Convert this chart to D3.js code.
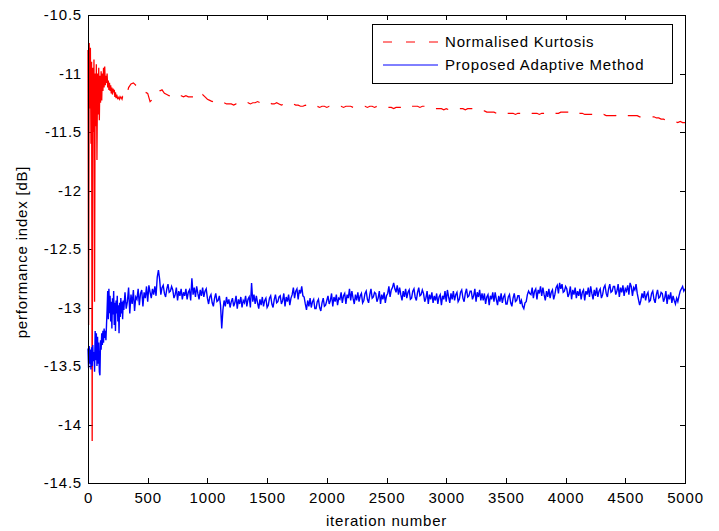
<!DOCTYPE html>
<html>
<head>
<meta charset="utf-8">
<script src="https://cdn.jsdelivr.net/npm/d3@7"></script>
<style>
  body { margin: 0; background: #fff; }
  svg text { font-family: Arial, "Liberation Sans", sans-serif; font-size: 15px; letter-spacing: 0.8px; fill: #000; }
</style>
</head>
<body>
<div id="chart"></div>
<script>
// sampling of the series: dense at the start, coarser afterwards
const earlyStep = 5;                            // iterations 0..300
const kurtLateStart = 320, kurtLateStep = 20;   // red, 320..5000
const adaptLateStart = 310, adaptLateStep = 10; // blue, 310..5000

// Normalised Kurtosis [dB]
const kurtosisEarly = [
  -10.80, -13.15, -10.74, -11.30, -10.78, -11.60, -10.90, -14.14, -10.95, -11.50,
  -10.88, -12.95, -11.00, -11.45, -10.92, -11.74, -11.00, -11.35, -10.95, -11.40,
  -11.02, -11.25, -10.98, -11.23, -11.00, -11.15, -10.95, -11.12, -10.94, -11.10,
  -11.02, -11.08, -11.00, -11.12, -11.06, -11.14, -11.08, -11.15, -11.10, -11.17,
  -11.12, -11.18, -11.13, -11.16, -11.14, -11.20, -11.16, -11.21, -11.18, -11.20,
  -11.22, -11.21, -11.20, -11.22, -11.21, -11.20, -11.21, -11.22, -11.20, -11.21,
  -11.20
];
const kurtosisLate = [
  -11.20, -11.12, -11.09, -11.08, -11.10, -11.11, -11.13, -11.14, -11.16, -11.17,
  -11.24, -11.22, -11.20, -11.18, -11.15, -11.14, -11.17, -11.18, -11.19, -11.18,
  -11.19, -11.18, -11.18, -11.19, -11.20, -11.19, -11.20, -11.20, -11.20, -11.21,
  -11.19, -11.20, -11.18, -11.20, -11.22, -11.23, -11.24, -11.23, -11.24, -11.24,
  -11.25, -11.25, -11.26, -11.26, -11.26, -11.27, -11.26, -11.26, -11.27, -11.26,
  -11.26, -11.25, -11.26, -11.25, -11.25, -11.24, -11.25, -11.25, -11.26, -11.25,
  -11.25, -11.26, -11.26, -11.25, -11.26, -11.27, -11.26, -11.26, -11.27, -11.26,
  -11.26, -11.27, -11.27, -11.28, -11.28, -11.27, -11.28, -11.28, -11.29, -11.28,
  -11.28, -11.29, -11.28, -11.28, -11.29, -11.28, -11.28, -11.29, -11.28, -11.28,
  -11.28, -11.29, -11.28, -11.28, -11.28, -11.29, -11.28, -11.28, -11.28, -11.28,
  -11.28, -11.29, -11.28, -11.28, -11.29, -11.28, -11.29, -11.29, -11.29, -11.29,
  -11.29, -11.29, -11.30, -11.29, -11.29, -11.29, -11.28, -11.28, -11.29, -11.28,
  -11.28, -11.28, -11.28, -11.29, -11.28, -11.28, -11.29, -11.30, -11.30, -11.30,
  -11.30, -11.30, -11.30, -11.31, -11.30, -11.31, -11.30, -11.30, -11.30, -11.30,
  -11.30, -11.30, -11.31, -11.30, -11.30, -11.30, -11.31, -11.31, -11.31, -11.32,
  -11.32, -11.33, -11.33, -11.33, -11.33, -11.34, -11.33, -11.33, -11.33, -11.34,
  -11.34, -11.34, -11.34, -11.35, -11.34, -11.34, -11.34, -11.34, -11.34, -11.35,
  -11.34, -11.34, -11.34, -11.35, -11.34, -11.34, -11.34, -11.33, -11.34, -11.34,
  -11.34, -11.34, -11.33, -11.33, -11.33, -11.33, -11.33, -11.34, -11.33, -11.33,
  -11.34, -11.34, -11.35, -11.35, -11.35, -11.35, -11.35, -11.36, -11.36, -11.36,
  -11.35, -11.36, -11.36, -11.36, -11.36, -11.36, -11.35, -11.36, -11.36, -11.36,
  -11.36, -11.36, -11.36, -11.36, -11.36, -11.37, -11.37, -11.37, -11.37, -11.37,
  -11.37, -11.37, -11.38, -11.38, -11.39, -11.39, -11.40, -11.41, -11.41, -11.41,
  -11.41, -11.42, -11.41, -11.42, -11.42
];

// Proposed Adaptive Method [dB]
const adaptiveEarly = [
  -13.35, -13.52, -13.33, -13.48, -13.36, -13.53, -13.34, -13.50, -13.32, -13.46,
  -13.38, -13.55, -13.20, -13.45, -13.22, -13.50, -13.25, -13.48, -13.30, -13.55,
  -13.58, -13.28, -13.36, -13.22, -13.32, -13.20, -13.30, -13.18, -13.26, -13.20,
  -13.28, -13.15, -13.02, -12.86, -13.10, -12.84, -13.05, -12.90, -13.12, -12.95,
  -13.18, -12.92, -13.06, -12.86, -13.15, -12.96, -13.20, -12.94, -13.05, -12.90,
  -13.12, -12.98, -13.22, -12.96, -13.08, -12.92, -13.05, -12.95, -13.10, -12.94,
  -13.02
];
const adaptiveLate = [
  -12.87, -13.01, -12.95, -12.83, -13.05, -12.89, -12.97, -12.85, -13.03, -12.91,
  -12.93, -12.84, -12.98, -12.88, -12.85, -12.99, -12.87, -12.92, -12.82, -12.95,
  -12.81, -12.87, -12.92, -12.84, -12.89, -12.82, -12.90, -12.74, -12.68, -12.76,
  -12.89, -12.83, -12.81, -12.88, -12.91, -12.84, -12.80, -12.87, -12.86, -12.82,
  -12.85, -12.92, -12.89, -12.83, -12.94, -12.86, -12.90, -12.84, -12.93, -12.87,
  -12.90, -12.84, -12.93, -12.87, -12.85, -12.94, -12.75, -12.89, -12.83, -12.91,
  -12.82, -12.88, -12.93, -12.85, -12.90, -12.83, -12.91, -12.86, -12.84, -12.92,
  -12.97, -12.91, -12.89, -12.96, -12.99, -12.92, -12.88, -12.95, -12.94, -12.90,
  -12.98, -13.18, -13.02, -12.94, -12.99, -12.91, -12.97, -12.93, -13.00, -12.95,
  -12.92, -12.99, -12.96, -12.90, -13.01, -12.93, -12.97, -12.91, -13.00, -12.94,
  -12.96, -12.90, -12.99, -12.93, -12.91, -13.00, -12.79, -12.95, -12.89, -12.97,
  -12.90, -12.96, -13.01, -12.93, -12.98, -12.91, -12.99, -12.94, -12.92, -13.00,
  -12.98, -12.92, -12.90, -12.97, -13.00, -12.93, -12.89, -12.96, -12.95, -12.91,
  -12.90, -12.97, -12.94, -12.88, -12.99, -12.91, -12.95, -12.89, -12.98, -12.92,
  -12.89, -12.83, -12.92, -12.86, -12.84, -12.93, -12.85, -12.88, -12.82, -12.90,
  -12.91, -12.97, -13.02, -12.94, -12.99, -12.92, -13.00, -12.95, -12.93, -13.01,
  -13.01, -12.95, -12.93, -13.00, -13.03, -12.96, -12.92, -12.99, -12.98, -12.94,
  -12.90, -12.97, -12.94, -12.88, -12.99, -12.91, -12.95, -12.89, -12.98, -12.92,
  -12.93, -12.87, -12.96, -12.90, -12.88, -12.97, -12.89, -12.92, -12.84, -12.94,
  -12.86, -12.92, -12.97, -12.89, -12.94, -12.87, -12.95, -12.90, -12.88, -12.96,
  -12.94, -12.88, -12.86, -12.93, -12.96, -12.89, -12.84, -12.92, -12.91, -12.87,
  -12.88, -12.95, -12.92, -12.86, -12.97, -12.89, -12.93, -12.87, -12.96, -12.90,
  -12.88, -12.82, -12.91, -12.85, -12.83, -12.79, -12.84, -12.87, -12.81, -12.89,
  -12.83, -12.89, -12.94, -12.86, -12.91, -12.84, -12.92, -12.87, -12.85, -12.93,
  -12.92, -12.86, -12.84, -12.91, -12.94, -12.87, -12.83, -12.90, -12.89, -12.85,
  -12.88, -12.95, -12.92, -12.86, -12.97, -12.89, -12.93, -12.87, -12.96, -12.90,
  -12.94, -12.88, -12.97, -12.91, -12.89, -12.98, -12.90, -12.93, -12.86, -12.95,
  -12.85, -12.91, -12.96, -12.88, -12.93, -12.86, -12.94, -12.89, -12.87, -12.95,
  -12.93, -12.87, -12.85, -12.92, -12.95, -12.88, -12.84, -12.91, -12.90, -12.86,
  -12.86, -12.93, -12.90, -12.84, -12.95, -12.87, -12.91, -12.85, -12.94, -12.88,
  -12.94, -12.88, -12.97, -12.91, -12.89, -12.98, -12.90, -12.93, -12.87, -12.95,
  -12.87, -12.93, -12.98, -12.90, -12.95, -12.88, -12.96, -12.91, -12.89, -12.97,
  -12.97, -12.91, -12.89, -12.96, -12.99, -12.92, -12.88, -12.95, -12.94, -12.90,
  -12.90, -12.97, -12.94, -12.99, -13.01, -12.96, -12.95, -12.89, -12.86, -12.88,
  -12.89, -12.83, -12.92, -12.86, -12.84, -12.93, -12.85, -12.88, -12.82, -12.90,
  -12.83, -12.89, -12.94, -12.86, -12.91, -12.84, -12.92, -12.87, -12.85, -12.93,
  -12.89, -12.83, -12.81, -12.88, -12.79, -12.84, -12.80, -12.87, -12.86, -12.82,
  -12.84, -12.91, -12.88, -12.82, -12.93, -12.85, -12.89, -12.83, -12.92, -12.86,
  -12.90, -12.84, -12.93, -12.87, -12.85, -12.94, -12.86, -12.89, -12.83, -12.91,
  -12.82, -12.88, -12.93, -12.85, -12.90, -12.83, -12.91, -12.86, -12.84, -12.92,
  -12.89, -12.83, -12.81, -12.88, -12.91, -12.84, -12.80, -12.87, -12.86, -12.82,
  -12.82, -12.89, -12.86, -12.80, -12.91, -12.83, -12.87, -12.81, -12.90, -12.84,
  -12.86, -12.81, -12.89, -12.79, -12.82, -12.90, -12.83, -12.85, -12.80, -12.88,
  -12.93, -12.98, -12.94, -12.88, -12.92, -12.86, -12.94, -12.89, -12.87, -12.95,
  -12.94, -12.88, -12.86, -12.93, -12.96, -12.89, -12.85, -12.92, -12.91, -12.87,
  -12.88, -12.95, -12.92, -12.86, -12.97, -12.89, -12.93, -12.87, -12.96, -12.90,
  -12.94, -12.97, -12.92, -12.95, -12.90, -12.86, -12.84, -12.82, -12.86, -12.84
];

const xTicks = [0, 500, 1000, 1500, 2000, 2500, 3000, 3500, 4000, 4500, 5000];
const yTicks = [-10.5, -11, -11.5, -12, -12.5, -13, -13.5, -14, -14.5];
const seriesNames = ['Normalised Kurtosis', 'Proposed Adaptive Method'];
const seriesColors = ['#ff0000', '#0000ff'];

// turn early/late arrays into {it, v} points
function toPoints(early, late, lateStart, lateStep) {
  const a = early.map((v, i) => ({ it: i * earlyStep, v }));
  const b = late.map((v, i) => ({ it: lateStart + i * lateStep, v }));
  return a.concat(b);
}
const kurtosis = toPoints(kurtosisEarly, kurtosisLate, kurtLateStart, kurtLateStep);
const adaptive = toPoints(adaptiveEarly, adaptiveLate, adaptLateStart, adaptLateStep);

const margin = { top: 15, right: 34, bottom: 48, left: 88 };
const width = 719 - margin.left - margin.right;
const height = 531 - margin.top - margin.bottom;

const svg = d3.select('#chart')
  .append('svg')
  .attr('width', 719)
  .attr('height', 531);

svg.append('rect').attr('width', 719).attr('height', 531).attr('fill', '#fff');

const g = svg.append('g')
  .attr('transform', `translate(${margin.left},${margin.top})`);

const x = d3.scaleLinear().domain([0, 5000]).range([0, width]);
const y = d3.scaleLinear().domain([-14.5, -10.5]).range([height, 0]);

const fmt = d => String(d);

// axes, ticks pointing inwards on all four sides
g.append('g')
  .attr('class', 'axis')
  .attr('transform', `translate(0,${height})`)
  .call(d3.axisBottom(x).tickValues(xTicks).tickFormat(fmt).tickSizeInner(-5).tickSizeOuter(0).tickPadding(9));
g.append('g')
  .attr('class', 'axis')
  .call(d3.axisTop(x).tickValues(xTicks).tickFormat('').tickSizeInner(-5).tickSizeOuter(0));
g.append('g')
  .attr('class', 'axis')
  .call(d3.axisLeft(y).tickValues(yTicks).tickFormat(fmt).tickSizeInner(-5).tickSizeOuter(0).tickPadding(6));
g.append('g')
  .attr('class', 'axis')
  .attr('transform', `translate(${width},0)`)
  .call(d3.axisRight(y).tickValues(yTicks).tickFormat('').tickSizeInner(-5).tickSizeOuter(0));

g.selectAll('.axis .domain').remove();
g.selectAll('.axis line').attr('stroke', '#000').attr('shape-rendering', 'crispEdges');
g.selectAll('.axis text').attr('font-size', null).attr('font-family', null).attr('fill', '#000');

const line = d3.line()
  .x(d => x(d.it))
  .y(d => y(d.v));

// red: solid through the dense start, dashed afterwards
g.append('path')
  .datum(kurtosis.filter(d => d.it <= 250))
  .attr('fill', 'none')
  .attr('stroke', seriesColors[0])
  .attr('stroke-width', 1.3)
  .attr('d', line);
g.append('path')
  .datum(kurtosis.filter(d => d.it >= 250))
  .attr('fill', 'none')
  .attr('stroke', seriesColors[0])
  .attr('stroke-width', 1.2)
  .attr('stroke-dasharray', '13,12')
  .attr('d', line);

g.append('path')
  .datum(adaptive)
  .attr('fill', 'none')
  .attr('stroke', seriesColors[1])
  .attr('stroke-width', 1.4)
  .attr('d', line);

// plot box
g.append('rect')
  .attr('x', 0.5).attr('y', 0.5)
  .attr('width', width).attr('height', height)
  .attr('fill', 'none')
  .attr('stroke', '#000');

// legend
const legend = svg.append('g').attr('transform', 'translate(372,24)');
legend.append('rect')
  .attr('x', 0.5).attr('y', 0.5)
  .attr('width', 300).attr('height', 59)
  .attr('fill', '#fff')
  .attr('stroke', '#000');
seriesNames.forEach((name, i) => {
  const ly = 18 + i * 23;
  legend.append('line')
    .attr('x1', 11).attr('x2', 66)
    .attr('y1', ly).attr('y2', ly)
    .attr('stroke', seriesColors[i])
    .attr('stroke-dasharray', i === 0 ? '9,14' : null);
  legend.append('text')
    .attr('x', 73).attr('y', ly)
    .attr('dy', '0.35em')
    .text(name);
});

// axis titles
svg.append('text')
  .attr('x', margin.left + width / 2)
  .attr('y', 526)
  .attr('text-anchor', 'middle')
  .text('iteration number');
svg.append('text')
  .attr('transform', `translate(27,${margin.top + height / 2 + 3}) rotate(-90)`)
  .attr('text-anchor', 'middle')
  .text('performance index [dB]');
</script>
</body>
</html>
